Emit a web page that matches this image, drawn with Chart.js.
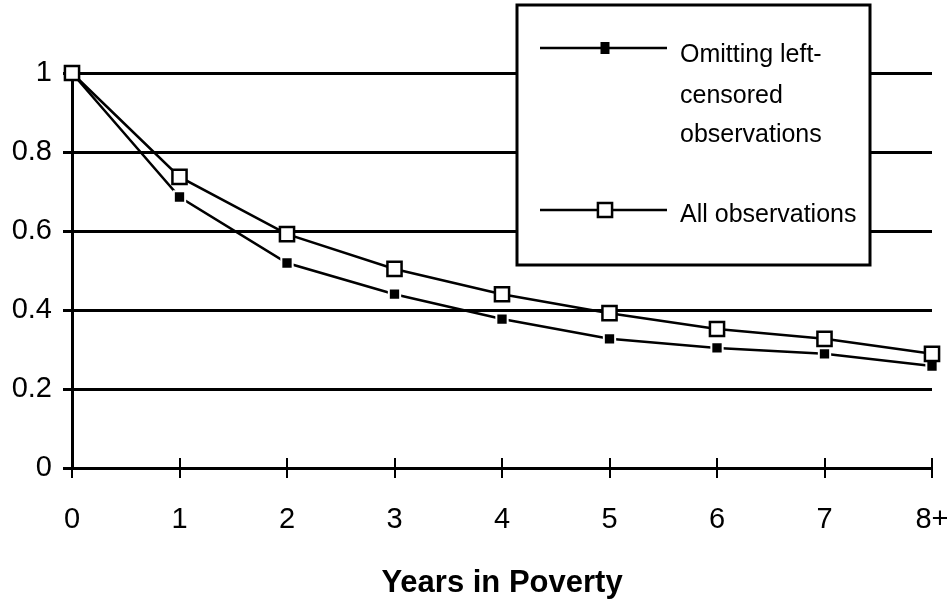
<!DOCTYPE html>
<html>
<head>
<meta charset="utf-8">
<script src="https://cdn.jsdelivr.net/npm/chart.js@4"></script>
<style>
  html, body { margin: 0; padding: 0; background: #fff; }
  #wrap { width: 951px; height: 607px; }
</style>
</head>
<body>
<div id="wrap"><canvas id="c" width="951" height="607"></canvas></div>
<script>
const categories = ["0", "1", "2", "3", "4", "5", "6", "7", "8+"];
const omittingLeftCensored = [1.0, 0.686, 0.519, 0.44, 0.377, 0.327, 0.304, 0.289, 0.258];
const allObservations = [1.0, 0.737, 0.592, 0.504, 0.44, 0.392, 0.352, 0.327, 0.289];
const seriesLabels = ["Omitting left-censored observations", "All observations"];
const legendTextLines = [["Omitting left-", "censored", "observations"], ["All observations"]];
const yTickLabels = ["0", "0.2", "0.4", "0.6", "0.8", "1"];
const xTitle = "Years in Poverty";

const FONT = "'Liberation Sans', Arial, Helvetica, sans-serif";
Chart.defaults.color = '#000';
Chart.defaults.font.family = FONT;

const xTickMarks = {
  id: 'xTickMarks',
  beforeDatasetsDraw(chart) {
    const x = chart.scales.x, ctx = chart.ctx;
    const y0 = chart.chartArea.bottom;
    ctx.save();
    ctx.strokeStyle = '#000';
    ctx.lineWidth = 2;
    ctx.beginPath();
    for (let i = 0; i < categories.length; i++) {
      const px = Math.round(x.getPixelForValue(i));
      ctx.moveTo(px, y0 - 10);
      ctx.lineTo(px, y0 + 10);
    }
    ctx.stroke();
    ctx.restore();
  }
};

const boxLegend = {
  id: 'boxLegend',
  afterDraw(chart) {
    const ctx = chart.ctx;
    const bx = 517, by = 5, bw = 353, bh = 260;
    ctx.save();
    ctx.fillStyle = '#fff';
    ctx.fillRect(bx, by, bw, bh);
    ctx.strokeStyle = '#000';
    ctx.lineWidth = 3;
    ctx.strokeRect(bx, by, bw, bh);
    const lineY = [48, 210];
    const baselines = [[62, 103, 142], [222]];
    chart.data.datasets.forEach((ds, i) => {
      ctx.strokeStyle = ds.borderColor;
      ctx.lineWidth = ds.borderWidth;
      ctx.beginPath();
      ctx.moveTo(540, lineY[i]);
      ctx.lineTo(667, lineY[i]);
      ctx.stroke();
      ctx.fillStyle = ds.pointBackgroundColor;
      ctx.strokeStyle = ds.pointBorderColor;
      ctx.lineWidth = ds.pointBorderWidth;
      const s = ds.pointRadius * Math.SQRT1_2;
      ctx.beginPath();
      if (ds.pointBackgroundColor === '#000') {
        ctx.rect(605 - 4.5, lineY[i] - 6, 9, 12);
        ctx.fill();
      } else {
        ctx.rect(605 - s, lineY[i] - s, 2 * s, 2 * s);
        ctx.fill();
        ctx.stroke();
      }
      ctx.fillStyle = '#000';
      ctx.font = "25px " + FONT;
      ctx.textBaseline = 'alphabetic';
      ctx.textAlign = 'left';
      legendTextLines[i].forEach((t, j) => ctx.fillText(t, 680, baselines[i][j]));
    });
    ctx.restore();
  }
};

new Chart(document.getElementById('c'), {
  type: 'line',
  data: {
    labels: categories,
    datasets: [
      {
        label: seriesLabels[0],
        data: omittingLeftCensored,
        borderColor: '#000',
        borderWidth: 2.5,
        pointStyle: 'rect',
        pointRadius: 8,
        pointBackgroundColor: '#000',
        pointBorderColor: '#fff',
        pointBorderWidth: 2,
        tension: 0,
        fill: false,
        order: 1
      },
      {
        label: seriesLabels[1],
        data: allObservations,
        borderColor: '#000',
        borderWidth: 2.5,
        pointStyle: 'rect',
        pointRadius: 10,
        pointBackgroundColor: '#fff',
        pointBorderColor: '#000',
        pointBorderWidth: 2.5,
        tension: 0,
        fill: false,
        order: 0
      }
    ]
  },
  options: {
    responsive: false,
    animation: false,
    clip: false,
    layout: { padding: { top: 73, right: 19, bottom: 0, left: 0 } },
    plugins: { legend: { display: false }, tooltip: { enabled: false } },
    elements: { point: { hoverRadius: 0 } },
    scales: {
      x: {
        type: 'category',
        offset: false,
        grid: { display: false, drawTicks: true, tickLength: 10 },
        border: { display: true, color: '#000', width: 3 },
        ticks: { font: { size: 29 }, color: '#000', maxRotation: 0, autoSkip: false, padding: 25 },
        title: { display: true, text: xTitle, font: { size: 31, weight: 'bold' }, color: '#000', padding: { top: 6, bottom: 5 } },
        afterFit(scale) { scale.height = 139; scale.paddingLeft = 0; scale.paddingRight = 0; }
      },
      y: {
        min: 0,
        max: 1,
        grid: { color: '#000', lineWidth: 3, tickLength: 9, drawTicks: true },
        border: { display: true, color: '#000', width: 3 },
        ticks: {
          stepSize: 0.2, font: { size: 29 }, color: '#000', padding: 11,
          callback: (v, i) => yTickLabels[i]
        },
        afterFit(scale) { scale.width = 72; scale.paddingTop = 0; scale.paddingBottom = 0; }
      }
    }
  },
  plugins: [xTickMarks, boxLegend]
});
</script>
</body>
</html>
